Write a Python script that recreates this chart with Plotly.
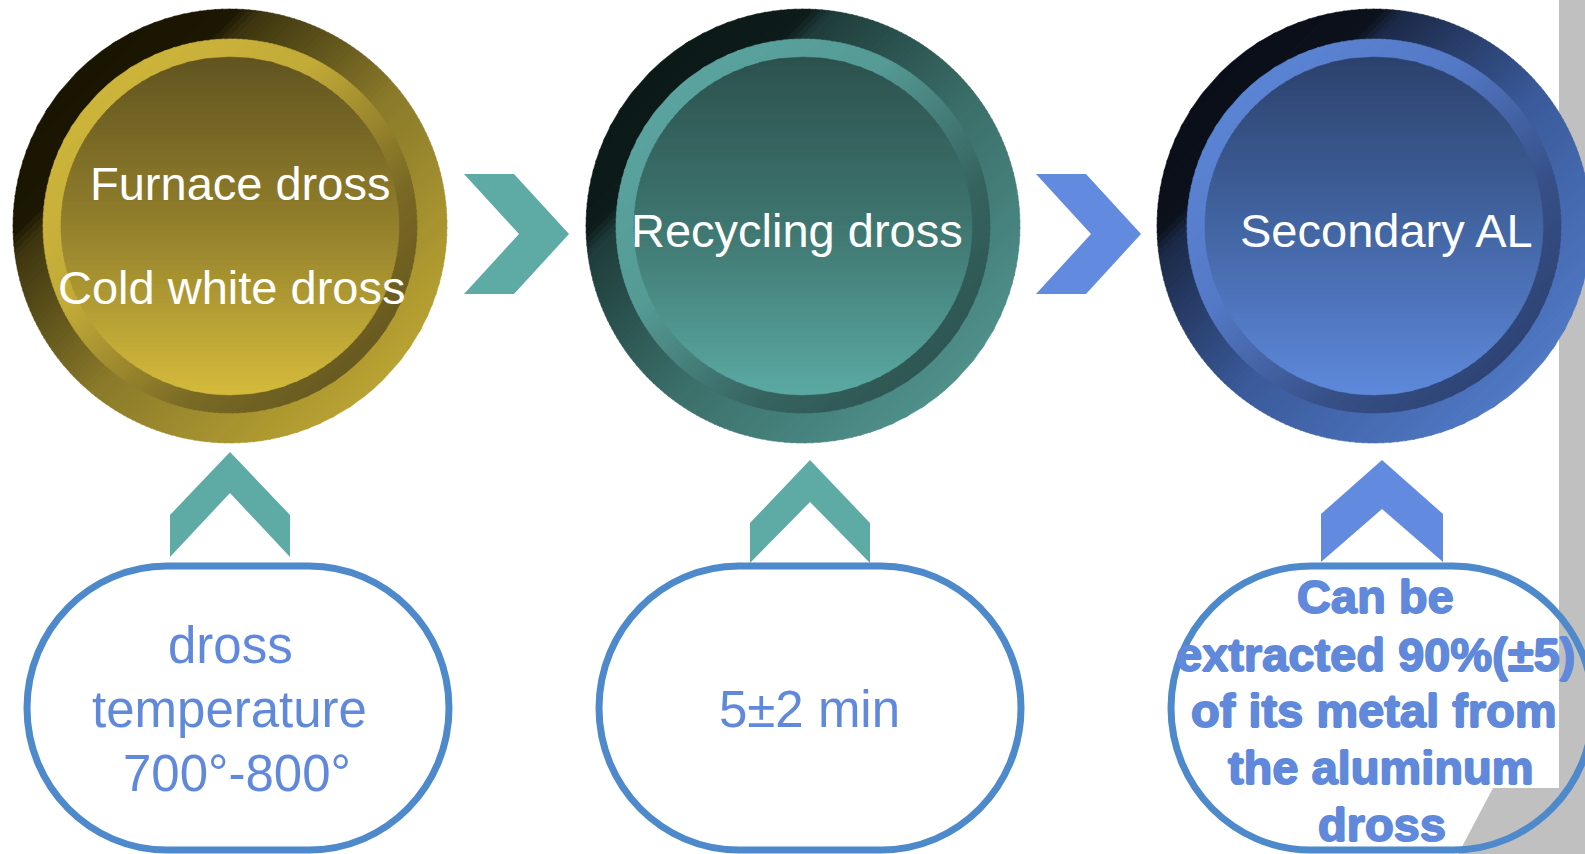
import numpy as np
import plotly.graph_objects as go

# ---------------- data ----------------
stage_labels = [["Furnace dross", "Cold white dross"], ["Recycling dross"], ["Secondary AL"]]
stage_label_x = [[240, 231], [797], [1386]]
stage_label_y = [[183, 287], [230], [230]]

note_lines = [["dross", "temperature", "700°-800°"], ["5±2 min"],
              ["Can be", "extracted 90%(±5)", "of its metal from", "the aluminum", "dross"]]
note_line_x = [[230, 229, 237], [809], [1375, 1375, 1374, 1381, 1382]]
note_line_y = [[645, 709, 773], [709], [596, 654, 710, 767, 824]]
note_bold = [False, False, True]

# circle palettes: outer (diagonal), ring (diagonal), inner (vertical)
outer_stops = [
    [(0, "#1a1500"), (0.16, "#1c1702"), (0.2, "#3d3510"), (0.55, "#8a7a2a"), (1, "#b9a232")],
    [(0, "#0b1917"), (0.16, "#0d1c1a"), (0.2, "#1f3d3a"), (0.55, "#3a6d68"), (1, "#4f908b")],
    [(0, "#0a0e18"), (0.16, "#0c111c"), (0.2, "#1c2a48"), (0.55, "#3a5a9a"), (1, "#5078c4")],
]
ring_stops = [
    [(0, "#cdb53b"), (0.35, "#c2aa38"), (0.75, "#7a6a25"), (1, "#685a20")],
    [(0, "#5aa39e"), (0.35, "#559a95"), (0.75, "#36635f"), (1, "#2e5653")],
    [(0, "#5b84d4"), (0.35, "#5479c6"), (0.75, "#364f86"), (1, "#2e4475")],
]
inner_stops = [
    [(0, "#615420"), (0.5, "#93802c"), (1, "#d5bb3b")],
    [(0, "#2c514e"), (0.5, "#3f7670"), (1, "#5ba9a3")],
    [(0, "#2c426d"), (0.5, "#4264a2"), (1, "#5e89db")],
]
circle_cx = [230, 803, 1374]
circle_cy = 226
R_outer, R_ring, R_inner = 217, 187, 169

teal = "#5eaaa5"
blue = "#628bdf"
right_arrow_colors = [teal, blue]
up_arrow_colors = [teal, teal, blue]
box_line_color = "#4d89cb"
note_color = "#6089dc"

# ---------------- helpers ----------------
def hex2rgb(h):
    h = h.lstrip("#")
    return np.array([int(h[i:i + 2], 16) for i in (0, 2, 4)], dtype=float)

def interp(stops, t):
    for (t0, c0), (t1, c1) in zip(stops[:-1], stops[1:]):
        if t <= t1:
            f = 0 if t1 == t0 else (t - t0) / (t1 - t0)
            c = hex2rgb(c0) * (1 - f) + hex2rgb(c1) * f
            return "rgb(%d,%d,%d)" % tuple(np.round(c))
    c = hex2rgb(stops[-1][1])
    return "rgb(%d,%d,%d)" % tuple(c)

def band(cx, cy, R, ang, u1, u2, n=12):
    dx, dy = np.cos(ang), np.sin(ang)
    px, py = -dy, dx
    u1 = max(u1, -R); u2 = min(u2, R)
    us = np.linspace(u1, u2, n)
    v = np.sqrt(np.clip(R * R - us * us, 0, None))
    uu = np.concatenate([us, us[::-1]])
    vv = np.concatenate([v, -v[::-1]])
    return cx + uu * dx + vv * px, cy + uu * dy + vv * py

fig = go.Figure()

def gradient_disc(cx, cy, R, ang, stops, nstrips=90):
    edges = np.linspace(-R, R, nstrips + 1)
    for i in range(nstrips):
        u1, u2 = edges[i], edges[i + 1]
        x, y = band(cx, cy, R, ang, u1, u2 + (1.0 if i < nstrips - 1 else 0))
        col = interp(stops, (i + 0.5) / nstrips)
        fig.add_trace(go.Scatter(x=x, y=y, mode="lines", fill="toself", fillcolor=col,
                                 line=dict(color=col, width=0.5), hoverinfo="skip",
                                 showlegend=False))

for k, cx in enumerate(circle_cx):
    gradient_disc(cx, circle_cy, R_outer, np.pi / 4, outer_stops[k])
    gradient_disc(cx, circle_cy, R_ring, np.pi / 4, ring_stops[k])
    gradient_disc(cx, circle_cy, R_inner, np.pi / 2, inner_stops[k], nstrips=70)

shapes = []
# gray page edge (below everything)
shapes.append(dict(type="path", layer="below",
                   path="M 1559 0 L 1590 0 L 1590 860 L 1455 860 L 1493 788 L 1559 788 Z",
                   fillcolor="#c0c0c0", line=dict(width=0)))

# right chevrons
for k, col in enumerate(right_arrow_colors):
    ox = k * 572
    pts = [(464, 174), (514, 174), (569, 234), (514, 294), (464, 294), (519, 234)]
    path = "M " + " L ".join("%g %g" % (x + ox, y) for x, y in pts) + " Z"
    shapes.append(dict(type="path", path=path, fillcolor=col, line=dict(width=0)))

# up chevrons
up_geo = [
    (230, 452, 60, 515, 557, 493),
    (810, 460, 60, 523, 563, 502),
    (1382, 460, 61, 514, 562, 509),
]
for (tx, ty, hw, sy, by, ny), col in zip(up_geo, up_arrow_colors):
    pts = [(tx, ty), (tx + hw, sy), (tx + hw, by), (tx, ny), (tx - hw, by), (tx - hw, sy)]
    path = "M " + " L ".join("%g %g" % p for p in pts) + " Z"
    shapes.append(dict(type="path", path=path, fillcolor=col, line=dict(width=0)))

# rounded note boxes
def rounded(x0, y0, x1, y1, rx, ry):
    k = 0.5523
    return (f"M {x0+rx} {y0} L {x1-rx} {y0} "
            f"C {x1-rx+k*rx} {y0} {x1} {y0+ry-k*ry} {x1} {y0+ry} "
            f"L {x1} {y1-ry} "
            f"C {x1} {y1-ry+k*ry} {x1-rx+k*rx} {y1} {x1-rx} {y1} "
            f"L {x0+rx} {y1} "
            f"C {x0+rx-k*rx} {y1} {x0} {y1-ry+k*ry} {x0} {y1-ry} "
            f"L {x0} {y0+ry} "
            f"C {x0} {y0+ry-k*ry} {x0+rx-k*rx} {y0} {x0+rx} {y0} Z")

for x0 in [27, 599, 1171]:
    shapes.append(dict(type="path", path=rounded(x0, 566, x0 + 422, 850, 140, 142),
                       line=dict(color=box_line_color, width=7), fillcolor="rgba(0,0,0,0)"))

annotations = []
font_family = "Liberation Sans, Arial, sans-serif"
heavy = ", ".join("%gpx %gpx 0 %s" % (dx, dy, note_color)
                  for dx, dy in [(0.9, 0), (-0.9, 0), (0, 0.9), (0, -0.9)])
for labels, xs, ys in zip(stage_labels, stage_label_x, stage_label_y):
    for t, x, y in zip(labels, xs, ys):
        annotations.append(dict(x=x, y=y, text=t, showarrow=False, xanchor="center",
                                yanchor="middle",
                                font=dict(family=font_family, size=47, color="white")))
for lines, xs, ys, bold in zip(note_lines, note_line_x, note_line_y, note_bold):
    for t, x, y in zip(lines, xs, ys):
        f = dict(family=font_family, size=47 if bold else 51, color=note_color)
        if bold:
            f["weight"] = "bold"
            f["shadow"] = heavy
        annotations.append(dict(x=x, y=y, text=t, showarrow=False, xanchor="center",
                                yanchor="middle", font=f))

fig.update_layout(
    width=1585, height=854, margin=dict(l=0, r=0, t=0, b=0),
    paper_bgcolor="white", plot_bgcolor="white",
    xaxis=dict(range=[0, 1585], visible=False, fixedrange=True),
    yaxis=dict(range=[854, 0], visible=False, fixedrange=True),
    shapes=shapes, annotations=annotations, showlegend=False,
)
fig.write_html("out.html", config={"displayModeBar": False},
               post_script="document.body.style.margin='0';document.body.style.overflow='hidden';")
